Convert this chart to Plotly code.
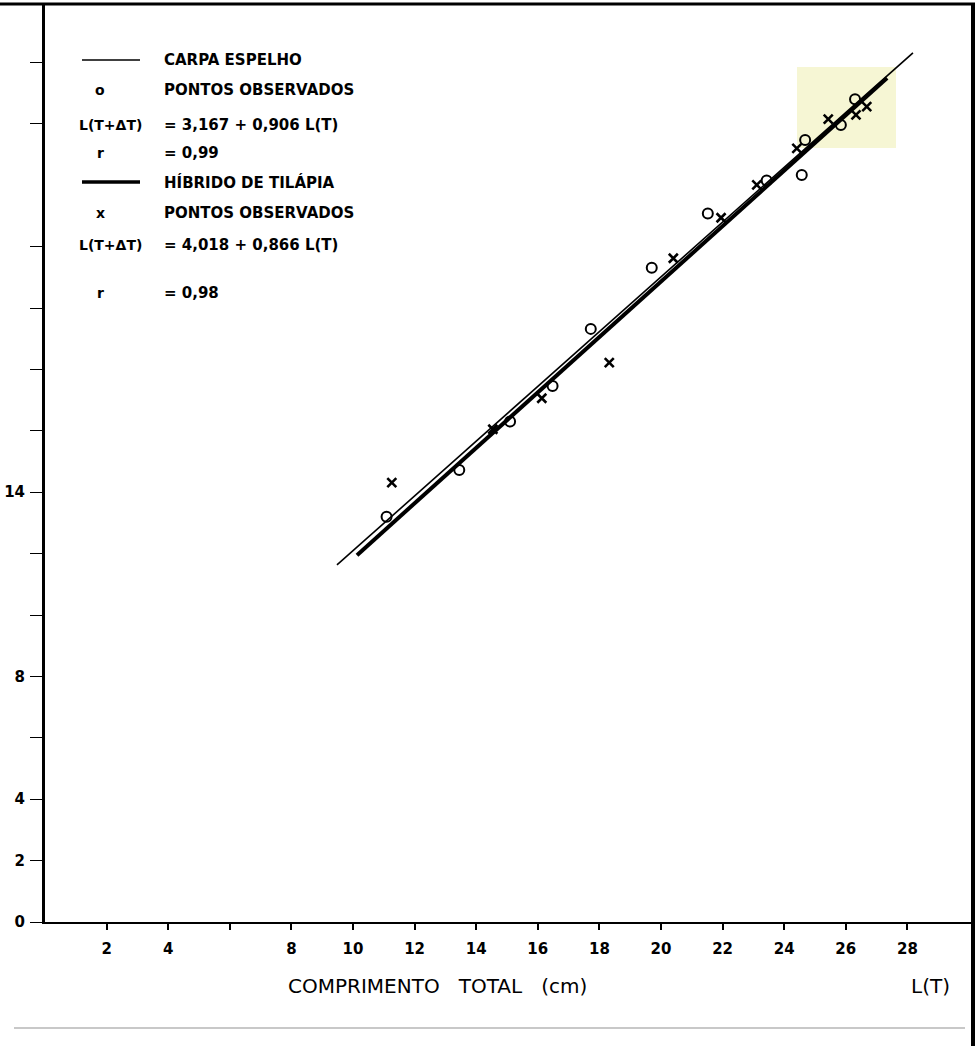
import plotly.graph_objects as go

# ---------------- data ----------------
carpa_x = [11.09, 13.45, 15.10, 16.48, 17.72, 19.70, 21.52, 23.43, 24.57, 24.68, 25.84, 26.30]
carpa_y = [13.20, 14.72, 16.30, 17.46, 19.32, 21.31, 23.08, 24.15, 24.33, 25.47, 25.96, 26.80]

tilapia_x = [11.26, 14.54, 16.13, 18.32, 20.40, 21.95, 23.11, 24.41, 25.43, 26.33, 26.68]
tilapia_y = [14.31, 16.05, 17.06, 18.22, 21.62, 22.94, 24.01, 25.20, 26.15, 26.29, 26.56]

# fitted lines as drawn (end points)
carpa_line_x = [9.48, 28.18]
carpa_line_y = [11.63, 28.31]
tilapia_line_x = [10.13, 27.34]
tilapia_line_y = [11.95, 27.49]

x_tickvals = [2, 4, 6, 8, 10, 12, 14, 16, 18, 20, 22, 24, 26, 28]
x_ticktext = ["2", "4", "", "8", "10", "12", "14", "16", "18", "20", "22", "24", "26", "28"]
y_tickvals = [0, 2, 4, 6, 8, 10, 12, 14, 16, 18, 20, 22, 26, 28]
y_ticktext = ["0", "2", "4", "", "8", "", "", "14", "", "", "", "", "", ""]

legend_rows = [
    ("line_thin", "CARPA ESPELHO"),
    ("o", "PONTOS OBSERVADOS"),
    ("L(T+ΔT)", "= 3,167 + 0,906 L(T)"),
    ("r", "= 0,99"),
    ("line_thick", "HÍBRIDO DE TILÁPIA"),
    ("x", "PONTOS OBSERVADOS"),
    ("L(T+ΔT)", "= 4,018 + 0,866 L(T)"),
    ("r", "= 0,98"),
]

# ---------------- layout geometry ----------------
W, H = 979, 1046
L, R, T, B = 45, 972, 4, 922
PW, PH = R - L, B - T


def fx(p):
    return (p - L) / PW


def fy(p):
    return (B - p) / PH


FONT = "DejaVu Sans"

fig = go.Figure()

fig.add_trace(go.Scatter(x=carpa_line_x, y=carpa_line_y, mode="lines",
                         line=dict(color="black", width=1.6), showlegend=False,
                         hoverinfo="skip"))
fig.add_trace(go.Scatter(x=tilapia_line_x, y=tilapia_line_y, mode="lines",
                         line=dict(color="black", width=4), showlegend=False,
                         hoverinfo="skip"))
fig.add_trace(go.Scatter(x=carpa_x, y=carpa_y, mode="markers",
                         marker=dict(symbol="circle-open", size=10, color="black",
                                     line=dict(width=2, color="black")),
                         showlegend=False))
fig.add_trace(go.Scatter(x=tilapia_x, y=tilapia_y, mode="markers",
                         marker=dict(symbol="x-thin-open", size=9, color="black",
                                     line=dict(width=2.6, color="black")),
                         showlegend=False))

shapes = []
# yellow highlight
shapes.append(dict(type="rect", xref="paper", yref="paper", layer="below",
                   x0=fx(797), x1=fx(896), y0=fy(148), y1=fy(67),
                   fillcolor="#f6f6d4", line=dict(width=0)))
# top border
shapes.append(dict(type="line", xref="paper", yref="paper",
                   x0=fx(0), x1=fx(975), y0=fy(4), y1=fy(4),
                   line=dict(color="black", width=3)))
# right border (continues below the plot)
shapes.append(dict(type="line", xref="paper", yref="paper",
                   x0=fx(973), x1=fx(973), y0=fy(1046), y1=fy(3),
                   line=dict(color="black", width=4)))
# bottom faint rule
shapes.append(dict(type="line", xref="paper", yref="paper",
                   x0=fx(14), x1=fx(965), y0=fy(1028), y1=fy(1028),
                   line=dict(color="#c8c8c8", width=2)))

annotations = []
row_y = [60, 90, 125, 153, 182, 213, 245, 293]
for (sym, txt), yy in zip(legend_rows, row_y):
    if sym == "line_thin":
        shapes.append(dict(type="line", xref="paper", yref="paper",
                           x0=fx(82), x1=fx(140), y0=fy(yy), y1=fy(yy),
                           line=dict(color="black", width=1.6)))
    elif sym == "line_thick":
        shapes.append(dict(type="line", xref="paper", yref="paper",
                           x0=fx(82), x1=fx(140), y0=fy(yy), y1=fy(yy),
                           line=dict(color="black", width=3.5)))
    else:
        cx = 110 if sym.startswith("L(") else 100
        annotations.append(dict(xref="paper", yref="paper", x=fx(cx), y=fy(yy),
                                text=sym, showarrow=False, xanchor="center",
                                yanchor="middle",
                                font=dict(family=FONT, size=14, color="black",
                                          weight="bold")))
    annotations.append(dict(xref="paper", yref="paper", x=fx(162), y=fy(yy),
                            text=txt, showarrow=False, xanchor="left",
                            yanchor="middle",
                            font=dict(family=FONT, size=15, color="black",
                                      weight="bold")))

annotations.append(dict(xref="paper", yref="paper", x=fx(437), y=fy(986),
                        text="COMPRIMENTO\u00a0\u00a0\u00a0TOTAL\u00a0\u00a0\u00a0(cm)",
                        showarrow=False, xanchor="center", yanchor="middle",
                        font=dict(family=FONT, size=20, color="black")))
annotations.append(dict(xref="paper", yref="paper", x=fx(930), y=fy(986),
                        text="L(T)", showarrow=False, xanchor="center",
                        yanchor="middle",
                        font=dict(family=FONT, size=20, color="black")))

fig.update_layout(
    width=W, height=H,
    margin=dict(l=L, r=W - R, t=T, b=H - B, pad=0),
    paper_bgcolor="white", plot_bgcolor="white",
    showlegend=False,
    xaxis=dict(range=[0, PW / 30.8], tickvals=x_tickvals, ticktext=x_ticktext,
               showgrid=False, zeroline=False, showline=True, linecolor="black",
               linewidth=2, ticks="outside", ticklen=6, tickwidth=1.5,
               tickcolor="black", ticklabelstandoff=6,
               tickfont=dict(family=FONT, size=15, color="black", weight="bold")),
    yaxis=dict(range=[0, PH / 30.7], tickvals=y_tickvals, ticktext=y_ticktext,
               showgrid=False, zeroline=False, showline=True, linecolor="black",
               linewidth=3, ticks="outside", ticklen=12, tickwidth=1.2,
               tickcolor="black", ticklabelstandoff=2,
               tickfont=dict(family=FONT, size=15, color="black", weight="bold")),
    shapes=shapes,
    annotations=annotations,
)

fig.write_html("out.html")
